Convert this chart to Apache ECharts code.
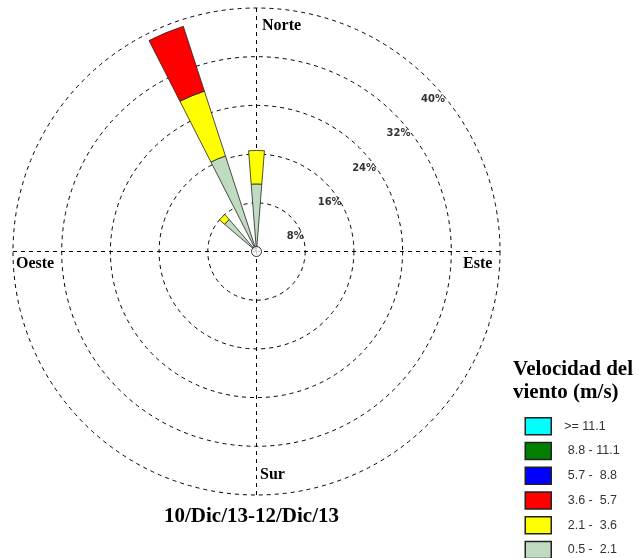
<!DOCTYPE html>
<html><head><meta charset="utf-8">
<script src="https://cdn.jsdelivr.net/npm/echarts@6/dist/echarts.min.js"></script>
<style>html,body{margin:0;padding:0;background:#fff}#c{width:642px;height:558px}</style>
</head><body><div id="c"></div>
<script>
// ---- data ----
const directions = ['N','NNE','NE','ENE','E','ESE','SE','SSE','S','SSW','SW','WSW','W','WNW','NW','NNW'];
const speedClasses = ['0.5 - 2.1','2.1 - 3.6','3.6 - 5.7','5.7 - 8.8','8.8 - 11.1','>= 11.1'];
const legendLabels = [' 0.5 -  2.1',' 2.1 -  3.6',' 3.6 -  5.7',' 5.7 -  8.8',' 8.8 - 11.1','>= 11.1'];
const classColors = ['#c0dcc0','#ffff00','#ff0000','#0000ff','#007f00','#00ffff'];
const freq_05_21 = [11.1,0,0,0,0,0,0,0,0,0,0,0,0,0,6.9,16.5];
const freq_21_36 = [5.5,0,0,0,0,0,0,0,0,0,0,0,0,0,1.1,11.2];
const freq_36_57 = [0,0,0,0,0,0,0,0,0,0,0,0,0,0,0,11.2];
const freq_57_88 = [0,0,0,0,0,0,0,0,0,0,0,0,0,0,0,0];
const freq_88_111 = [0,0,0,0,0,0,0,0,0,0,0,0,0,0,0,0];
const freq_111 = [0,0,0,0,0,0,0,0,0,0,0,0,0,0,0,0];
const radiusMax = 40;
const radiusStep = 8;
const compassNames = ['Norte','Este','Sur','Oeste'];
const chartTitle = '10/Dic/13-12/Dic/13';
const legendTitle = 'Velocidad del\nviento (m/s)';

const allFreq = [freq_05_21, freq_21_36, freq_36_57, freq_57_88, freq_88_111, freq_111];

const chart = echarts.init(document.getElementById('c'));
const C = [256.5, 251.5], R = 243.5;
const dash = {color:'#000', width:1, type:[4,4]};
const hidden = {axisLine:{show:false}, axisTick:{show:false}, axisLabel:{show:false}, splitLine:{show:false}};
const serif = 'Liberation Serif';

const series = speedClasses.map((name, i) => ({
  name, type:'bar', coordinateSystem:'polar', polarIndex:0, stack:'wind', barWidth:'40%',
  data: allFreq[i].map(v => v === 0 ? null : v),
  itemStyle:{color:classColors[i], borderColor:'#222', borderWidth:0.8},
  z:5
}));
series.push({
  type:'scatter', coordinateSystem:'polar', polarIndex:1, data:[[0,0]], symbolSize:10,
  itemStyle:{color:'#fff', borderColor:'#000', borderWidth:1}, z:10, silent:true
});

const compassPos = [
  {x:262, y:25.5}, {x:463, y:264}, {x:260, y:475.3}, {x:16, y:264}
];

chart.setOption({
  animation:false,
  backgroundColor:'#fff',
  title:{text:chartTitle, left:164, top:506, padding:0,
    textStyle:{fontFamily:serif, fontWeight:'bold', fontSize:21, color:'#000'}},
  polar:[{center:C, radius:R},{center:C, radius:R},{center:C, radius:R}],
  angleAxis:[
    Object.assign({polarIndex:0, type:'category', data:directions, startAngle:101.25, clockwise:true, boundaryGap:true}, hidden),
    Object.assign({polarIndex:1, type:'value', min:0, max:360, interval:90, startAngle:90}, hidden,
      {splitLine:{show:true, lineStyle:dash}}),
    Object.assign({polarIndex:2, type:'value', min:0, max:360, startAngle:45}, hidden)
  ],
  radiusAxis:[
    Object.assign({polarIndex:0, type:'value', min:0, max:radiusMax, interval:radiusStep}, hidden,
      {splitLine:{show:true, lineStyle:dash}}),
    Object.assign({polarIndex:1, type:'value', min:0, max:radiusMax, interval:radiusStep}, hidden),
    Object.assign({polarIndex:2, type:'value', min:0, max:radiusMax, interval:radiusStep}, hidden, {
      axisLabel:{show:true, formatter:v => v === 0 ? '' : v + '%', align:'center', verticalAlign:'middle',
        margin:-28, padding:[0,31,0,0], fontFamily:'DejaVu Sans', fontWeight:'bold', fontSize:10, color:'#333'}
    })
  ],
  legend:{
    data: speedClasses.slice().reverse(), orient:'vertical', left:524.5, top:417, padding:0, height:200,
    itemWidth:26, itemHeight:17, itemGap:6.25, icon:'rect', selectedMode:false,
    itemStyle:{borderColor:'#222', borderWidth:1.5},
    formatter: name => legendLabels[speedClasses.indexOf(name)],
    textStyle:{fontFamily:'Liberation Sans', fontSize:12.5, color:'#333', padding:[0,0,0,8]}
  },
  graphic: compassNames.map((t, i) => ({
    type:'text', x:compassPos[i].x, y:compassPos[i].y,
    style:{text:t, font:'bold 16px "Liberation Serif"', fill:'#000', verticalAlign:'middle'}
  })).concat([{
    type:'text', x:513, y:358.4,
    style:{text:legendTitle, font:'bold 21px "Liberation Serif"', fill:'#000', verticalAlign:'top', lineHeight:22.6}
  }]),
  series
});
</script></body></html>
